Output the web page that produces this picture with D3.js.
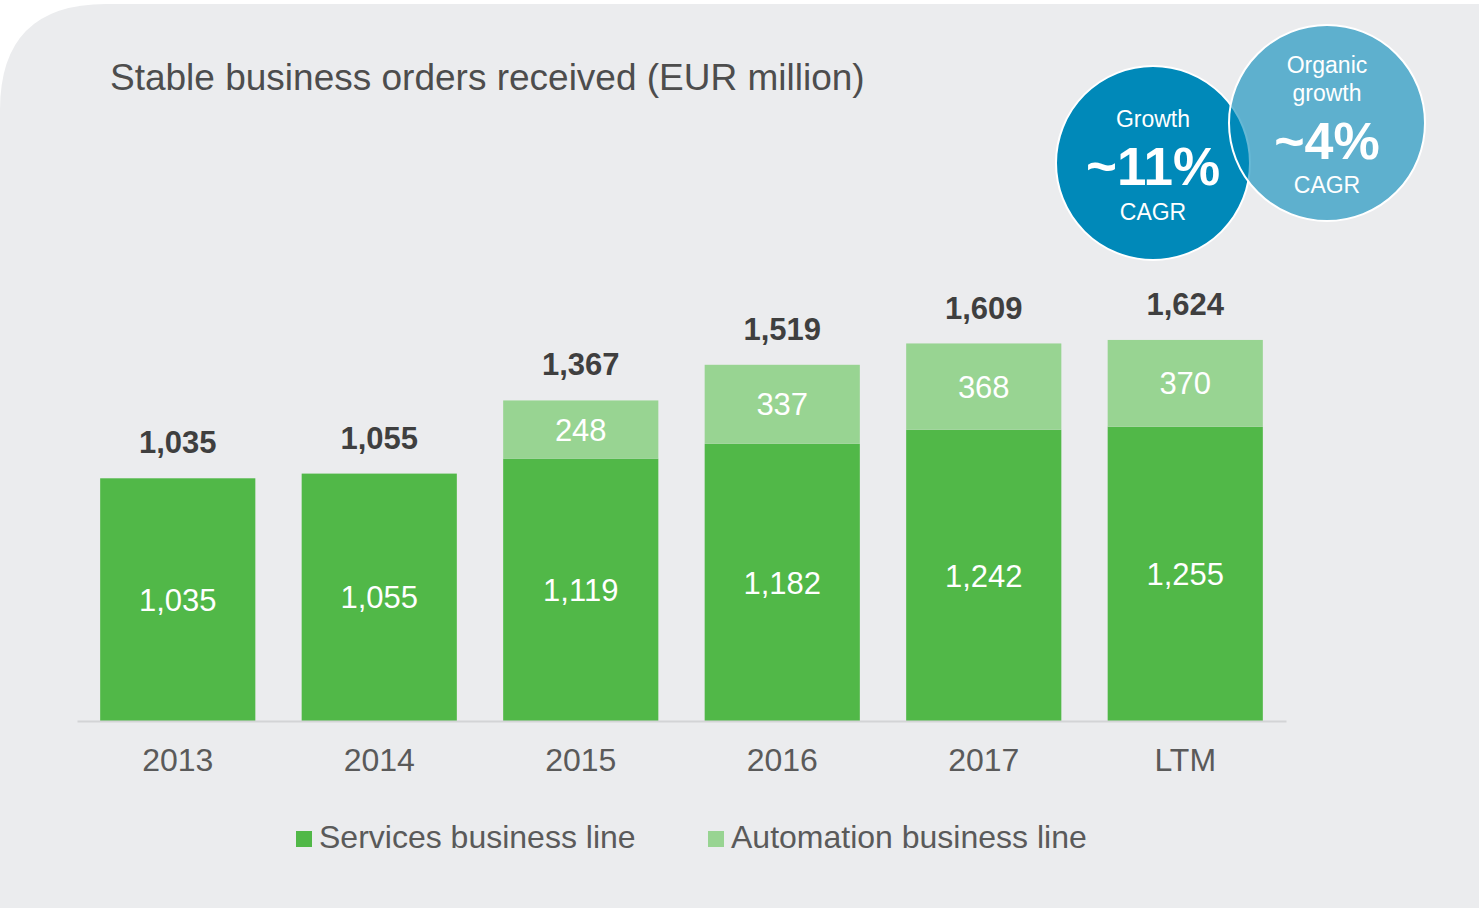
<!DOCTYPE html>
<html>
<head>
<meta charset="utf-8">
<script src="https://cdn.jsdelivr.net/npm/d3@7.9.0/dist/d3.min.js"></script>
<style>
  html, body { margin: 0; padding: 0; background: #ffffff; }
  svg { display: block; font-family: "Liberation Sans", Arial, sans-serif; }
</style>
</head>
<body>
<svg id="chart" width="1479" height="908"></svg>
<script>
// data
const categories = ['2013', '2014', '2015', '2016', '2017', 'LTM'];
const services = [1035, 1055, 1119, 1182, 1242, 1255];
const automation = [0, 0, 248, 337, 368, 370];
const totals = [1035, 1055, 1367, 1519, 1609, 1624];
const seriesNames = ['Services business line', 'Automation business line'];
const seriesColors = ['#51b848', '#98d492'];

const svg = d3.select('#chart');
const W = 1479, H = 908;

// background panel, rounded top-left corner
const r = 106;
svg.append('path')
    .attr('d', `M0,${H} L0,${4 + r} Q0,4 ${r},4 L${W},4 L${W},${H} Z`)
    .attr('fill', '#ebecee');

svg.append('text')
    .attr('x', 110)
    .attr('y', 90)
    .attr('font-size', 37)
    .attr('fill', '#4d4d4d')
    .text('Stable business orders received (EUR million)');

const x = d3.scaleBand()
    .domain(categories)
    .range([77, 1286])
    .paddingInner(0.23)
    .paddingOuter(0.115);

const y = d3.scaleLinear()
    .domain([0, 2000])
    .range([721, 721 - 469]);

const rows = categories.map((c, i) => ({
    cat: c, services: services[i], automation: automation[i], total: totals[i]
}));

const stack = d3.stack().keys(['services', 'automation'])(rows);

const layers = svg.append('g').selectAll('g')
    .data(stack)
    .join('g')
    .attr('fill', (d, i) => seriesColors[i]);

layers.selectAll('rect')
    .data(d => d.filter(s => s[1] > s[0]))
    .join('rect')
    .attr('x', d => x(d.data.cat))
    .attr('y', d => y(d[1]))
    .attr('width', x.bandwidth())
    .attr('height', d => y(d[0]) - y(d[1]));

// value labels inside segments
stack.forEach(layer => {
    svg.append('g').selectAll('text')
        .data(layer.filter(s => s[1] > s[0]))
        .join('text')
        .attr('x', d => x(d.data.cat) + x.bandwidth() / 2)
        .attr('y', d => (y(d[0]) + y(d[1])) / 2)
        .attr('dy', '0.36em')
        .attr('text-anchor', 'middle')
        .attr('font-size', 31)
        .attr('fill', '#ffffff')
        .text(d => d3.format(',')(d[1] - d[0]));
});

// totals on top
svg.append('g').selectAll('text')
    .data(rows)
    .join('text')
    .attr('x', d => x(d.cat) + x.bandwidth() / 2)
    .attr('y', d => y(d.total) - 25)
    .attr('text-anchor', 'middle')
    .attr('font-size', 31)
    .attr('font-weight', 'bold')
    .attr('fill', '#3f3f3f')
    .text(d => d3.format(',')(d.total));

// x axis
const xAxis = svg.append('g')
    .attr('transform', `translate(0,${y(0)})`)
    .call(d3.axisBottom(x).tickSize(0).tickPadding(0));
xAxis.select('.domain').attr('stroke', '#d3d4d6').attr('stroke-width', 2);
xAxis.selectAll('text')
    .attr('font-family', '"Liberation Sans", Arial, sans-serif')
    .attr('font-size', 32)
    .attr('fill', '#5a5a5a')
    .attr('dy', null)
    .attr('y', 50);

// legend
const legendX = [296, 708];
const legend = svg.append('g').selectAll('g')
    .data(seriesNames)
    .join('g')
    .attr('transform', (d, i) => `translate(${legendX[i]},831)`);
legend.append('rect')
    .attr('width', 16).attr('height', 16)
    .attr('fill', (d, i) => seriesColors[i]);
legend.append('text')
    .attr('x', 23)
    .attr('y', 17)
    .attr('font-size', 32)
    .attr('fill', '#5a5a5a')
    .text(d => d);

// CAGR bubbles
const bubbles = [
    { cx: 1153, cy: 163, r: 97, opacity: 1, lines: [['Growth', 23, 'normal', 127], ['~11%', 53, 'bold', 185], ['CAGR', 23, 'normal', 220]] },
    { cx: 1327, cy: 123, r: 98, opacity: 0.6, lines: [['Organic', 23, 'normal', 73], ['growth', 23, 'normal', 101], ['~4%', 52, 'bold', 159], ['CAGR', 23, 'normal', 193]] }
];
bubbles.forEach(b => {
    svg.append('circle')
        .attr('cx', b.cx).attr('cy', b.cy).attr('r', b.r)
        .attr('fill', '#0089b9')
        .attr('fill-opacity', b.opacity)
        .attr('stroke', '#ffffff')
        .attr('stroke-width', 2);
});
bubbles.forEach(b => {
    svg.append('g').selectAll('text')
        .data(b.lines)
        .join('text')
        .attr('x', b.cx)
        .attr('y', d => d[3])
        .attr('text-anchor', 'middle')
        .attr('font-size', d => d[1])
        .attr('font-weight', d => d[2])
        .attr('fill', '#ffffff')
        .text(d => d[0]);
});
</script>
</body>
</html>
